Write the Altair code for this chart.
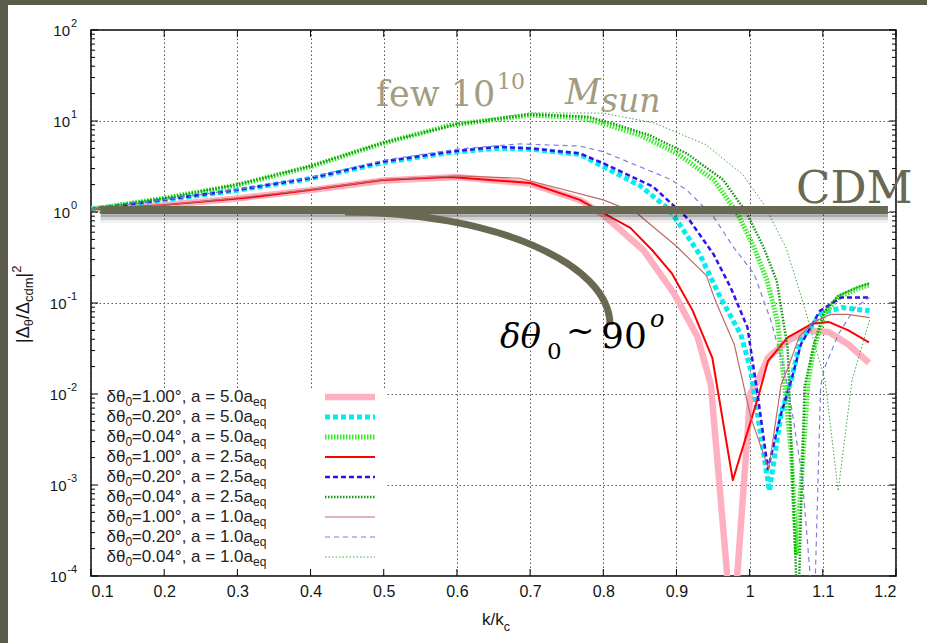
import altair as alt
import pandas as pd

# ---------------- data ----------------
X_TICKS = [0.1, 0.2, 0.3, 0.4, 0.5, 0.6, 0.7, 0.8, 0.9, 1.0, 1.1, 1.2]
Y_TICKS = [1e-4, 1e-3, 1e-2, 1e-1, 1.0, 10.0, 100.0]
Y_EXP = ["-4", "-3", "-2", "-1", "0", "1", "2"]
Y_MINOR = [m * 10.0 ** e for e in range(-4, 2) for m in range(2, 10)]

# delta theta0 = 1.00 deg, a = 5.0 a_eq
K_PINK = [0.1, 0.2, 0.3, 0.4, 0.5, 0.6, 0.7, 0.77, 0.8, 0.855, 0.897, 0.929, 0.947, 0.969, 0.975,
          0.983, 1.001, 1.011, 1.025, 1.052, 1.080, 1.108, 1.135, 1.163]
V_PINK = [1.07, 1.19, 1.41, 1.74, 2.22, 2.42, 2.05, 1.33, 0.93, 0.38, 0.126, 0.042, 0.0127, 1.1e-4, 1e-5,
          1e-4, 0.0101, 0.0139, 0.025, 0.0385, 0.050, 0.048, 0.035, 0.022]
# delta theta0 = 0.20 deg, a = 5.0 a_eq
K_CYAN = [0.1, 0.2, 0.3, 0.4, 0.5, 0.59, 0.655, 0.7, 0.768, 0.8, 0.85, 0.891, 0.932, 0.96, 0.988, 1.001,
          1.027, 1.043, 1.057, 1.069, 1.098, 1.126, 1.164]
V_CYAN = [1.07, 1.35, 1.73, 2.33, 3.5, 4.5, 5.0, 4.9, 4.3, 3.15, 1.95, 1.05, 0.34, 0.115, 0.045, 0.019,
          8.6e-4, 6.1e-3, 0.0143, 0.038, 0.077, 0.089, 0.082]
# delta theta0 = 0.04 deg, a = 5.0 a_eq
K_GREEN = [0.1, 0.198, 0.3, 0.4, 0.499, 0.591, 0.7, 0.768, 0.8, 0.85, 0.901, 0.951, 0.983, 1.006, 1.024,
           1.038, 1.048, 1.057, 1.064, 1.080, 1.088, 1.102, 1.121, 1.148, 1.164]
V_GREEN = [1.07, 1.41, 1.98, 3.15, 5.7, 9.0, 11.6, 10.9, 9.4, 7.0, 4.4, 2.25, 0.975, 0.41, 0.175,
           0.063, 0.012, 2.2e-3, 1.8e-4, 0.0143, 0.032, 0.075, 0.115, 0.144, 0.158]
# delta theta0 = 1.00 deg, a = 2.5 a_eq
K_RED = [0.1, 0.198, 0.313, 0.399, 0.499, 0.591, 0.7, 0.768, 0.8, 0.837, 0.867, 0.894, 0.922, 0.949,
         0.977, 1.013, 1.025, 1.052, 1.085, 1.108, 1.135, 1.163]
V_RED = [1.07, 1.19, 1.43, 1.75, 2.25, 2.43, 2.08, 1.36, 0.975, 0.67, 0.38, 0.21, 0.083, 0.025,
         1.13e-3, 0.0101, 0.023, 0.042, 0.059, 0.062, 0.050, 0.037]
# delta theta0 = 0.20 deg, a = 2.5 a_eq
K_BLUE = [0.1, 0.2, 0.3, 0.4, 0.499, 0.591, 0.655, 0.7, 0.768, 0.8, 0.868, 0.918, 0.951, 0.974, 0.997,
          1.011, 1.025, 1.043, 1.057, 1.07, 1.096, 1.125, 1.164]
V_BLUE = [1.07, 1.36, 1.75, 2.35, 3.57, 4.6, 5.2, 5.0, 4.4, 3.43, 1.9, 0.81, 0.34, 0.148, 0.054,
          0.0098, 1.5e-3, 6.1e-3, 0.0143, 0.035, 0.082, 0.115, 0.115]
# delta theta0 = 0.04 deg, a = 2.5 a_eq
K_DKGREEN = [0.1, 0.2, 0.3, 0.4, 0.5, 0.6, 0.7, 0.78, 0.813, 0.863, 0.914, 0.964, 0.996, 1.019, 1.037,
             1.052, 1.066, 1.075, 1.088, 1.102, 1.121, 1.148, 1.164]
V_DKGREEN = [1.07, 1.42, 2.0, 3.2, 5.8, 9.2, 11.8, 11.1, 9.4, 7.0, 4.4, 2.25, 0.975, 0.41, 0.175,
             0.032, 3e-5, 0.012, 0.035, 0.08, 0.12, 0.15, 0.165]
# delta theta0 = 1.00 deg, a = 1.0 a_eq
K_BROWN = [0.1, 0.2, 0.3, 0.4, 0.5, 0.6, 0.686, 0.8, 0.846, 0.9, 0.941, 0.953, 0.979, 1.002, 1.026,
           1.043, 1.052, 1.068, 1.089, 1.111, 1.134, 1.164]
V_BROWN = [1.07, 1.19, 1.43, 1.76, 2.27, 2.5, 2.35, 1.36, 0.97, 0.42, 0.2, 0.107, 0.035, 5.4e-3, 1.5e-3,
           0.0127, 0.019, 0.043, 0.063, 0.075, 0.075, 0.069]
# delta theta0 = 0.20 deg, a = 1.0 a_eq
K_LAV = [0.1, 0.2, 0.3, 0.4, 0.5, 0.6, 0.686, 0.768, 0.8, 0.891, 0.914, 0.951, 0.978, 1.006, 1.029,
         1.047, 1.056, 1.072, 1.088, 1.097, 1.102, 1.121, 1.144, 1.164]
V_LAV = [1.07, 1.36, 1.76, 2.4, 3.7, 4.9, 5.6, 5.3, 4.6, 2.3, 1.75, 0.88, 0.41, 0.21, 0.064,
         0.019, 8.2e-3, 1.2e-3, 3e-5, 0.012, 0.019, 0.045, 0.089, 0.115]
# delta theta0 = 0.04 deg, a = 1.0 a_eq
K_LTGREEN = [0.1, 0.2, 0.3, 0.4, 0.5, 0.6, 0.7, 0.8, 0.87, 0.94, 0.99, 1.02, 1.05, 1.075, 1.093,
             1.103, 1.121, 1.14, 1.164]
V_LTGREEN = [1.07, 1.42, 2.0, 3.2, 5.8, 9.3, 12.3, 12.2, 9.5, 5.5, 2.6, 1.2, 0.4, 0.09, 0.027,
             0.0143, 8.6e-4, 0.0143, 0.065]

# legend label pieces: delta theta value and scale factor
LEG_THETA = ["1.00", "0.20", "0.04", "1.00", "0.20", "0.04", "1.00", "0.20", "0.04"]
LEG_A = ["5.0", "5.0", "5.0", "2.5", "2.5", "2.5", "1.0", "1.0", "1.0"]
CURVES = [(K_PINK, V_PINK), (K_CYAN, V_CYAN), (K_GREEN, V_GREEN),
          (K_RED, V_RED), (K_BLUE, V_BLUE), (K_DKGREEN, V_DKGREEN),
          (K_BROWN, V_BROWN), (K_LAV, V_LAV), (K_LTGREEN, V_LTGREEN)]
CDM_LEVEL = [1.05]
CDM_SPAN = [0.113, 1.189]

# ---------------- styles ----------------
STYLES = [
    dict(color="#ffb0c0", width=6.5, dash=None),
    dict(color="#00eeee", width=5, dash=[5, 3]),
    dict(color="#33ee22", width=5, dash=[1.5, 1.5]),
    dict(color="#ff0000", width=2, dash=None),
    dict(color="#3311ee", width=2.5, dash=[5, 3]),
    dict(color="#119911", width=2.5, dash=[1.5, 1.5]),
    dict(color="#c06868", width=1.2, dash=None),
    dict(color="#8080e0", width=1.2, dash=[5, 4]),
    dict(color="#40a840", width=1, dash=[1.5, 2]),
]
OLIVE = "#696953"
KHAKI = "#a29c80"
INK = "#151515"
SANS = "Liberation Sans"

W, H = 805, 546
L, T = 91, 30


def px(x):
    return x - L


def py(y):
    return y - T


xs = alt.Scale(domain=[0.1, 1.2], nice=False, zero=False)
ys = alt.Scale(type="log", domain=[1e-4, 100], nice=False)

X_AXIS = alt.Axis(values=X_TICKS, format=".1~f", grid=True, gridColor="#555", gridDash=[1.5, 2.5],
                  gridWidth=1, ticks=False, domain=False, labelFont=SANS, labelFontSize=16,
                  labelColor=INK, labelPadding=7, title=None)
Y_AXIS = alt.Axis(values=Y_TICKS, grid=True, gridColor="#555", gridDash=[1.5, 2.5], gridWidth=1,
                  ticks=False, domain=False, labels=False, title=None)
XE = alt.X("k:Q", scale=xs, axis=X_AXIS)
YE = alt.Y("v:Q", scale=ys, axis=Y_AXIS)

one = alt.Data(values=[{"a": 1}])
layers = []

# axes / grid carrier
layers.append(alt.Chart(pd.DataFrame({"k": X_TICKS[:7], "v": Y_TICKS})).mark_point(opacity=0).encode(x=XE, y=YE))

# curves
for (ks, vs), st in zip(CURVES, STYLES):
    mk = dict(color=st["color"], strokeWidth=st["width"], clip=True, strokeCap="butt", strokeJoin="round")
    if st["dash"]:
        mk["strokeDash"] = st["dash"]
    layers.append(alt.Chart(pd.DataFrame({"k": ks, "v": vs})).mark_line(**mk).encode(x=XE, y=YE))

# legend background
layers.append(alt.Chart(one).mark_rect(color="white").encode(
    x=alt.value(1.5), x2=alt.value(px(386)), y=alt.value(py(388)), y2=alt.value(H - 1.5)))

# inward ticks
xt = pd.DataFrame({"k": X_TICKS})
layers.append(alt.Chart(xt).mark_rule(color="black", strokeWidth=1).encode(x=XE, y=alt.value(H), y2=alt.value(H - 7)))
layers.append(alt.Chart(xt).mark_rule(color="black", strokeWidth=1).encode(x=XE, y=alt.value(0), y2=alt.value(7)))
ytm = pd.DataFrame({"v": Y_TICKS})
ytn = pd.DataFrame({"v": Y_MINOR})
for dfv, ln in ((ytm, 7), (ytn, 4)):
    layers.append(alt.Chart(dfv).mark_rule(color="black", strokeWidth=1).encode(y=YE, x=alt.value(0), x2=alt.value(ln)))
    layers.append(alt.Chart(dfv).mark_rule(color="black", strokeWidth=1).encode(y=YE, x=alt.value(W), x2=alt.value(W - ln)))

# y tick labels: "10" with a raised exponent
ylab = pd.DataFrame({"v": Y_TICKS, "e": Y_EXP, "neg": [e.startswith("-") for e in Y_EXP]})
layers.append(alt.Chart(ylab).mark_text(align="right", baseline="middle", font=SANS, fontSize=11, dy=-6,
                                        color=INK).encode(y=YE, x=alt.value(-14), text="e:N"))
for neg, xr in ((False, -21), (True, -24.5)):
    layers.append(alt.Chart(ylab[ylab["neg"] == neg]).mark_text(
        align="right", baseline="middle", font=SANS, fontSize=15, dy=1, color=INK, text="10").encode(
        y=YE, x=alt.value(xr)))


def txt(s, x, y, size, color, font="DejaVu Serif", style="normal", align="left", angle=0):
    return alt.Chart(one).mark_text(text=s, font=font, fontSize=size, fontStyle=style, align=align,
                                    baseline="alphabetic", color=color, angle=angle).encode(
        x=alt.value(px(x)), y=alt.value(py(y)))


# legend content (text pieces right-aligned so the subscripts join cleanly)
LEG_END = 253
REST_W = 7.104 * 17          # width of "=1.00°, a = 5.0a" in Liberation Sans 17px
for i, (th, av, st) in enumerate(zip(LEG_THETA, LEG_A, STYLES)):
    yy = 397 + 20 * i
    mk = dict(color=st["color"], strokeWidth=st["width"], strokeCap="butt")
    if st["dash"]:
        mk["strokeDash"] = st["dash"]
    layers.append(alt.Chart(one).mark_rule(**mk).encode(
        x=alt.value(px(325)), x2=alt.value(px(375)), y=alt.value(py(yy))))
    layers.append(txt("=" + th + "°, a = " + av + "a", LEG_END, yy + 5, 17, "#222", font=SANS, align="right"))
    layers.append(txt("0", LEG_END - REST_W, yy + 9, 12, "#222", font=SANS, align="right"))
    layers.append(txt("δθ", LEG_END - REST_W - 6.7, yy + 5, 17, "#222", font=SANS, align="right"))
    layers.append(txt("eq", LEG_END, yy + 9, 12, "#222", font=SANS))

# axis titles
layers.append(txt("k/k", 482, 625, 17, INK, font=SANS))
layers.append(txt("c", 503.7, 631, 12.5, INK, font=SANS))
yt = [("|Δ", 28.5, 343, 18), ("θ", 33, 326.3, 13), ("/Δ", 28.5, 319.1, 18), ("cdm", 33, 302.1, 13),
      ("|", 28.5, 277.5, 18), ("2", 20.5, 272.8, 13)]
for s, x, y, f in yt:
    layers.append(txt(s, x, y, f, INK, font=SANS, angle=270))

# CDM reference line with shadow
cdm = pd.DataFrame({"k": [CDM_SPAN[0]], "k2": [CDM_SPAN[1]], "v": CDM_LEVEL})
for off, op in ((9, 0.06), (6, 0.12), (3, 0.2)):
    layers.append(alt.Chart(cdm).mark_rule(color="#000", strokeWidth=8, opacity=op, yOffset=off).encode(
        x=XE, x2="k2:Q", y=YE))
layers.append(alt.Chart(cdm).mark_rule(color=OLIVE, strokeWidth=8).encode(x=XE, x2="k2:Q", y=YE))

# curved arc
arc_path = "M -1 -0.4264 A 2 0.8528 0 0 1 1 0.4264"
layers.append(alt.Chart(one).mark_point(shape=arc_path, size=265 * 265, filled=False, stroke=OLIVE,
                                        strokeWidth=7, opacity=1).encode(
    x=alt.value(px(477.5)), y=alt.value(py(268.5))))

# annotations
layers.append(txt("CDM", 796, 203, 45, OLIVE))
layers.append(txt("few 10", 376, 106, 35, KHAKI))
layers.append(txt("10", 497, 89, 22, KHAKI))
layers.append(txt("M", 565, 104, 35, KHAKI, style="italic"))
layers.append(txt("sun", 601, 112, 33, KHAKI, style="italic"))
layers.append(txt("δθ", 500, 348, 34, "#000", style="italic"))
layers.append(txt("0", 547, 359, 23, "#000"))
layers.append(txt("~", 566, 342, 34, "#000"))
layers.append(txt("90", 601, 348, 36, "#000"))
layers.append(txt("o", 650, 327, 24, "#000", style="italic"))

# dark frame strips of the slide
layers.append(alt.Chart(one).mark_rect(color="#5b5b4c").encode(
    x=alt.value(px(0)), x2=alt.value(px(8)), y=alt.value(py(0)), y2=alt.value(py(643))))
layers.append(alt.Chart(one).mark_rect(color="#5b5b4c").encode(
    x=alt.value(px(0)), x2=alt.value(px(927)), y=alt.value(py(0)), y2=alt.value(py(5))))

chart = alt.layer(*layers).properties(
    width=W, height=H,
    autosize=alt.AutoSizeParams(type="none"),
    padding={"left": L, "top": T, "right": 927 - L - W, "bottom": 643 - T - H},
    background="white",
).configure_view(stroke="black", strokeWidth=1.5)

chart.save("out.html", embed_options={"renderer": "svg", "actions": False})
